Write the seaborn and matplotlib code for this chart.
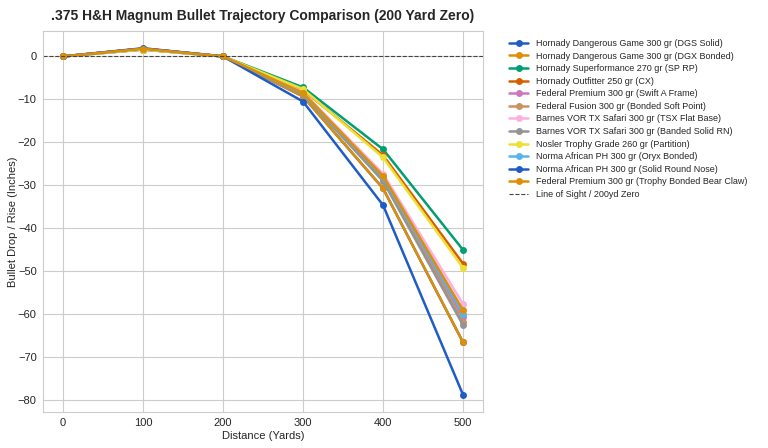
import pandas as pd
import seaborn as sns
import matplotlib.pyplot as plt

# Distances (yards)
distance = [0, 100, 200, 300, 400, 500]

# Loads and their drop/rise at each distance (inches)
loads = [
    "Hornady Dangerous Game 300 gr (DGS Solid)",
    "Hornady Dangerous Game 300 gr (DGX Bonded)",
    "Hornady Superformance 270 gr (SP RP)",
    "Hornady Outfitter 250 gr (CX)",
    "Federal Premium 300 gr (Swift A Frame)",
    "Federal Fusion 300 gr (Bonded Soft Point)",
    "Barnes VOR TX Safari 300 gr (TSX Flat Base)",
    "Barnes VOR TX Safari 300 gr (Banded Solid RN)",
    "Nosler Trophy Grade 260 gr (Partition)",
    "Norma African PH 300 gr (Oryx Bonded)",
    "Norma African PH 300 gr (Solid Round Nose)",
    "Federal Premium 300 gr (Trophy Bonded Bear Claw)",
]

dgs_solid = [0, 1.8, 0, -9.3, -30.7, -66.5]
dgx_bonded = [0, 1.8, 0, -9.3, -30.7, -66.5]
superformance = [0, 1.6, 0, -7.2, -21.6, -45.0]
outfitter = [0, 1.6, 0, -7.8, -23.0, -48.2]
swift_a_frame = [0, 1.8, 0, -8.7, -28.4, -60.7]
fusion = [0, 1.8, 0, -8.6, -28.6, -61.8]
tsx_flat_base = [0, 1.7, 0, -8.3, -27.3, -57.6]
banded_solid = [0, 1.8, 0, -8.8, -29.0, -62.5]
partition = [0, 1.6, 0, -7.6, -23.5, -49.2]
oryx = [0, 1.8, 0, -8.6, -28.0, -60.0]
solid_round_nose = [0, 1.9, 0, -10.5, -34.6, -78.7]
bear_claw = [0, 1.8, 0, -8.5, -27.8, -59.0]

series = [dgs_solid, dgx_bonded, superformance, outfitter, swift_a_frame, fusion,
          tsx_flat_base, banded_solid, partition, oryx, solid_round_nose, bear_claw]

rows = []
for name, vals in zip(loads, series):
    for d, v in zip(distance, vals):
        rows.append({"Load": name, "Distance": d, "Drop": v})
df = pd.DataFrame(rows)

sns.set_style("whitegrid")
plt.rcParams['font.family'] = ['Liberation Sans', 'DejaVu Sans']

fig, ax = plt.subplots(figsize=(7.68, 4.48), dpi=100)
fig.subplots_adjust(left=0.056, right=0.629, top=0.931, bottom=0.080)

palette = sns.color_palette("colorblind", 10)
palette[0] = "#1f5cc6"
palette = palette + palette[:2]

sns.lineplot(data=df, x="Distance", y="Drop", hue="Load", hue_order=loads,
             palette=palette, marker="o", markersize=5, markeredgewidth=0,
             linewidth=1.8, ax=ax)

ax.axhline(0, color="#444444", linestyle="--", linewidth=0.8,
           label="Line of Sight / 200yd Zero")

ax.set_title(".375 H&H Magnum Bullet Trajectory Comparison (200 Yard Zero)",
             fontsize=10, fontweight="bold", pad=8)
ax.set_xlabel("Distance (Yards)", fontsize=8, labelpad=2)
ax.set_ylabel("Bullet Drop / Rise (Inches)", fontsize=8, labelpad=0)
ax.set_xticks(distance)
ax.tick_params(labelsize=8, pad=1)

handles, labels = ax.get_legend_handles_labels()
ax.legend(handles, labels, bbox_to_anchor=(1.04, 1.0), loc="upper left",
          fontsize=6.45, frameon=False, handlelength=2.2, labelspacing=0.4)

plt.savefig("out.png", dpi=100)
plt.close()
